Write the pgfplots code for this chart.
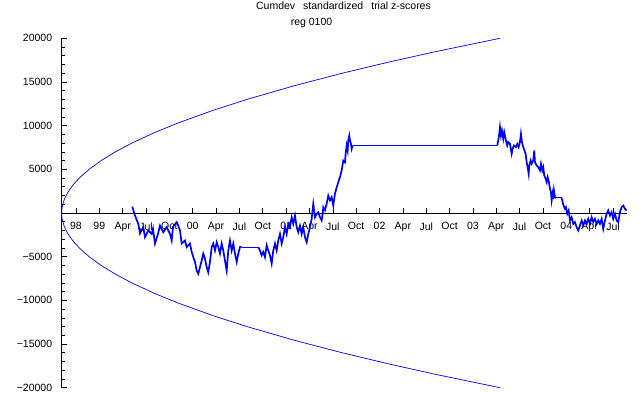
\documentclass[border=0pt]{standalone}
\usepackage{pgfplots}
\pgfplotsset{compat=1.18}
\usepackage{fontspec}
\setmainfont{Liberation Sans}
\definecolor{pblue}{RGB}{0,0,255}
\begin{document}
\begin{tikzpicture}
\begin{axis}[
  name=ax,
  scale only axis,
  width=565.3pt, height=349.4pt,
  xmin=-0.612, xmax=23.6,
  ymin=-20000, ymax=20000,
  axis x line*=middle,
  axis y line*=left,
  clip=false,
  scaled y ticks=false,
  font=\fontsize{10.5}{12}\selectfont,
  tick align=inside,
  major tick length=5pt,
  minor tick length=3pt,
  tick style={black, line width=0.6pt},
  axis line style={black, line width=0.8pt},
  xtick={0,1,...,23},
  xticklabels={98,99,Apr,Jul,Oct,00,Apr,Jul,Oct,01,Apr,Jul,Oct,02,Apr,Jul,Oct,03,Apr,Jul,Oct,04,Apr,Jul},
  xticklabel style={yshift=-6pt},
  ytick={-20000,-15000,-10000,-5000,5000,10000,15000,20000},
  yticklabels={−20000,−15000,−10000,−5000,5000,10000,15000,20000},
  minor ytick={-19000,-18000,...,19000},
  yticklabel style={xshift=-6pt},
]
% envelope
\addplot[pblue, line width=0.7pt] coordinates {
(-0.612,0) (-0.607,326) (-0.602,462) (-0.592,653) (-0.562,1032) (-0.512,1460) (-0.462,1788)
(-0.312,2528) (-0.112,3264) (0.188,4129) (0.588,5057) (1.088,6019) (1.688,7001) (2.388,7996)
(3.388,9233) (4.388,10322) (5.888,11769) (7.388,13057) (9.388,14598) (11.388,15992)
(13.388,17273) (15.388,18465) (18.158,20000)
};
\addplot[pblue, line width=0.7pt] coordinates {
(-0.612,0) (-0.607,-326) (-0.602,-462) (-0.592,-653) (-0.562,-1032) (-0.512,-1460) (-0.462,-1788)
(-0.312,-2528) (-0.112,-3264) (0.188,-4129) (0.588,-5057) (1.088,-6019) (1.688,-7001) (2.388,-7996)
(3.388,-9233) (4.388,-10322) (5.888,-11769) (7.388,-13057) (9.388,-14598) (11.388,-15992)
(13.388,-17273) (15.388,-18465) (18.158,-20000)
};
% cumdev trace, part 1
\addplot[pblue, line width=1.7pt, line join=miter] coordinates {
(2.411,740) (2.527,-290) (2.668,-1240) (2.741,-2350) (2.882,-1620) (2.955,-2770) (3.096,-2000)
(3.242,-2390) (3.298,-1800) (3.383,-3500) (3.512,-2400) (3.597,-1450) (3.739,-2200) (3.884,-1620)
(4.026,-2390) (4.099,-3150) (4.154,-1600) (4.313,-1050) (4.381,-1450) (4.454,-2000) (4.527,-3500)
(4.668,-3150) (4.741,-3900) (4.882,-3500) (4.955,-4450) (5.024,-5050) (5.096,-5600) (5.169,-6600)
(5.238,-6950) (5.311,-6200) (5.383,-5450) (5.452,-4650) (5.525,-5250) (5.598,-6200) (5.666,-6780)
(5.739,-5600) (5.812,-3900) (5.880,-3500) (5.953,-4300) (6.026,-3350) (6.094,-3900) (6.167,-4650)
(6.240,-3500) (6.308,-4300) (6.381,-5450) (6.454,-6600) (6.523,-4300) (6.595,-3150) (6.668,-4300)
(6.737,-3500) (6.810,-4650) (6.882,-5600) (6.951,-4650) (7.024,-3900) (7.096,-3900)
};
\addplot[pblue, line width=0.7pt] coordinates {(7.096,-3900) (7.807,-3900)};
% part 2
\addplot[pblue, line width=1.7pt, line join=miter] coordinates {
(7.807,-3900) (7.880,-4300) (7.953,-4850) (8.021,-4450) (8.094,-5050) (8.167,-3700) (8.236,-4300)
(8.308,-4850) (8.381,-5800) (8.450,-4300) (8.523,-3500) (8.595,-4300) (8.664,-3150) (8.737,-2400)
(8.810,-3500) (8.878,-2770) (8.951,-1600) (9.024,-2400) (9.092,-1240) (9.165,-1620) (9.238,-480)
(9.306,-1240) (9.379,-290) (9.452,-1620) (9.520,-2200) (9.593,-1450) (9.666,-2400) (9.735,-1620)
(9.807,-2770) (9.880,-3350) (9.949,-2400) (10.022,-1620) (10.094,-670) (10.163,1050) (10.236,-480)
(10.308,-100) (10.377,70) (10.450,-480) (10.522,-860) (10.565,-100) (10.591,660) (10.664,300)
(10.737,1050) (10.805,2000) (10.878,1440) (10.951,1820) (11.019,860) (11.092,2200) (11.165,2950)
(11.233,3500) (11.276,3900) (11.306,4100) (11.379,4860) (11.448,6000) (11.520,5800) (11.550,6780)
(11.593,7730) (11.636,7150) (11.662,8300) (11.705,8870) (11.735,8300) (11.778,7920) (11.807,7350)
(11.850,7730)
};
\addplot[pblue, line width=0.7pt] coordinates {(11.850,7730) (18.043,7730)};
% part 3
\addplot[pblue, line width=1.7pt, line join=miter] coordinates {
(18.043,7730) (18.086,8300) (18.129,9070) (18.159,9820) (18.201,8870) (18.244,9450) (18.300,8490)
(18.343,9250) (18.416,8300) (18.471,7730) (18.514,8110) (18.587,7920) (18.660,6780) (18.703,7350)
(18.758,7730) (18.844,7540) (18.900,7920) (18.959,7540) (19.015,8110) (19.058,9070) (19.101,8110)
(19.157,7540) (19.259,6780) (19.302,5820) (19.345,5240) (19.388,4490) (19.414,5440) (19.473,6010)
(19.516,5630) (19.585,6010) (19.628,7150) (19.658,5820) (19.730,5440) (19.799,5240) (19.872,4870)
(19.915,5630) (19.970,4870) (20.013,5240) (20.056,4300) (20.116,3900) (20.159,3530) (20.202,4110)
(20.257,3530) (20.300,2770) (20.343,2380) (20.373,1430) (20.416,2200) (20.441,1620) (20.471,2580)
(20.514,1810) (20.557,1740)
};
\addplot[pblue, line width=0.7pt] coordinates {(20.557,1740) (20.801,1740)};
\addplot[pblue, line width=1.7pt, line join=miter] coordinates {
(20.801,1740) (20.870,950) (20.942,480) (20.985,670) (21.041,-90) (21.101,290) (21.157,-860)
(21.229,-480) (21.298,-1240) (21.371,-1050) (21.443,-1620) (21.512,-2000) (21.585,-1430)
(21.658,-860) (21.726,-1430) (21.799,-860) (21.872,-1240) (21.940,-670) (22.013,-1240)
(22.086,-480) (22.154,-1050) (22.227,-670) (22.300,-1240) (22.368,-860) (22.441,-1240)
(22.514,-670) (22.582,-1810) (22.655,-860) (22.728,-90) (22.797,290) (22.869,-290) (22.942,100)
(23.011,-670) (23.084,-90) (23.157,-860) (23.225,-1050) (23.298,100) (23.371,670) (23.439,860)
(23.512,480) (23.585,290)
};
\end{axis}
\node[anchor=base, font=\fontsize{10.5}{12}\selectfont] at ([shift={(281.8pt,28.3pt)}]ax.north west)
  {Cumdev\hspace{8pt}standardized\hspace{8pt}trial z-scores};
\node[anchor=base, font=\fontsize{10.5}{12}\selectfont] at ([shift={(249.8pt,12.3pt)}]ax.north west)
  {reg 0100};
\pgfresetboundingbox
\path[use as bounding box] ([shift={(-61.7pt,-7.3pt)}]ax.south west) rectangle ([shift={(13pt,38.3pt)}]ax.north east);
\end{tikzpicture}
\end{document}
